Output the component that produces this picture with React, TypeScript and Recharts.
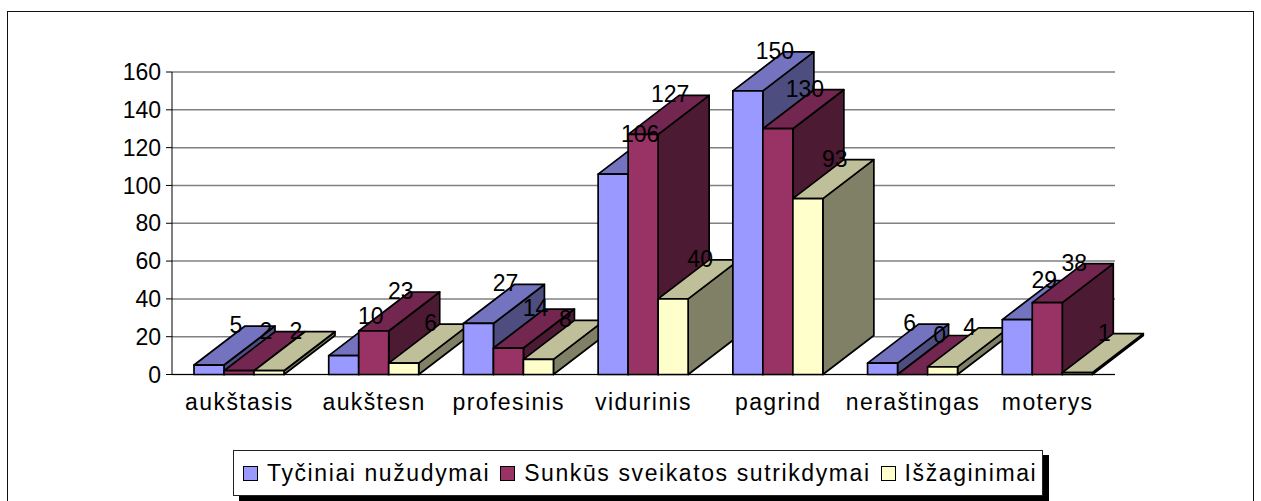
import { BarChart, Bar, XAxis, YAxis, CartesianGrid } from "recharts";

const categories = ["aukštasis", "aukštesn", "profesinis", "vidurinis", "pagrind", "neraštingas", "moterys"];
const tycNuzudymai = [5, 10, 27, 106, 150, 6, 29];
const sunkus = [2, 23, 14, 127, 130, 0, 38];
const isZaginimai = [2, 6, 8, 40, 93, 4, 1];
const yTicks = [0, 20, 40, 60, 80, 100, 120, 140, 160];

const seriesNames = ["Tyčiniai nužudymai", "Sunkūs sveikatos sutrikdymai", "Išžaginimai"];
const seriesValues = [tycNuzudymai, sunkus, isZaginimai];
// front, top, side
const seriesColors = [
  ["#9999ff", "#7373bf", "#4d4d80"],
  ["#993366", "#732650", "#4d1a33"],
  ["#ffffcc", "#bfbf99", "#808066"],
];

const rows = categories.map((name, i) => ({
  name,
  s0: seriesValues[0][i],
  s1: seriesValues[1][i],
  s2: seriesValues[2][i],
}));

const DEPTH_X = 51;
const DEPTH_Y = 39;
const FONT = "'Liberation Sans', Arial, sans-serif";
const TEXT_SIZE = 23;

// 3d box, front rectangle comes from the bar scale
function Box({ x, y, width, height, colors }: any) {
  const r = x + width;
  const b = y + height;
  const line = { stroke: "#000", strokeWidth: 1.7, strokeLinejoin: "round" as const };
  return (
    <g>
      <polygon
        points={`${r},${y} ${r + DEPTH_X},${y - DEPTH_Y} ${r + DEPTH_X},${b - DEPTH_Y} ${r},${b}`}
        fill={colors[2]}
        {...line}
      />
      <polygon
        points={`${x},${y} ${x + DEPTH_X},${y - DEPTH_Y} ${r + DEPTH_X},${y - DEPTH_Y} ${r},${y}`}
        fill={colors[1]}
        {...line}
      />
      <rect x={x} y={y} width={width} height={height} fill={colors[0]} {...line} />
    </g>
  );
}

function ValueLabel({ x, y, width, value }: any) {
  return (
    <text
      x={x + width / 2 + 27}
      y={y - DEPTH_Y - 1}
      textAnchor="middle"
      dominantBaseline="central"
      fontFamily={FONT}
      fontSize={TEXT_SIZE}
      fill="#000"
    >
      {value}
    </text>
  );
}

export default function App() {
  return (
    <div style={{ position: "absolute", left: 0, top: 0, width: 1261, height: 501, background: "#fff", overflow: "hidden" }}>
      <div
        style={{
          position: "absolute",
          left: 7,
          top: 11,
          width: 1245,
          height: 500,
          border: "1.5px solid #111",
        }}
      />
      <BarChart
        width={1261}
        height={501}
        data={rows}
        barGap={0}
        margin={{ top: 72, right: 146, bottom: 96.5, left: 0 }}
        style={{ position: "absolute", left: 0, top: 0 }}
      >
        <CartesianGrid vertical={false} stroke="#808080" strokeWidth={1.5} xAxisId="labels" />
        <YAxis
          width={172}
          domain={[0, 160]}
          ticks={yTicks}
          interval={0}
          tick={{ fontFamily: FONT, fontSize: TEXT_SIZE, fill: "#000" }}
          tickLine={{ stroke: "#000" }}
          axisLine={{ stroke: "#000" }}
          tickSize={6}
          tickMargin={5}
        />
        <XAxis
          xAxisId="labels"
          dataKey="name"
          height={30}
          interval={0}
          tick={{ fontFamily: FONT, fontSize: TEXT_SIZE, fill: "#000", letterSpacing: 1.4 }}
          tickLine={false}
          axisLine={{ stroke: "#000" }}
          tickMargin={13}
        />
        {/* one hidden axis per category so boxes paint left to right, group by group */}
        {categories.map((c) => (
          <XAxis key={c} xAxisId={c} dataKey="name" height={0} hide />
        ))}
        {categories.map((c, i) =>
          seriesNames.map((_, s) => (
            <Bar
              key={c + s}
              xAxisId={c}
              dataKey={"s" + s}
              barSize={30}
              isAnimationActive={false}
              shape={(p: any) => (p.index === i ? <Box {...p} colors={seriesColors[s]} /> : <g />)}
            />
          ))
        )}
        {/* labels sit above all boxes */}
        {seriesNames.map((_, s) => (
          <Bar
            key={"label" + s}
            xAxisId="labels"
            dataKey={"s" + s}
            barSize={30}
            isAnimationActive={false}
            shape={() => <g />}
            label={<ValueLabel />}
          />
        ))}
      </BarChart>
      <div
        style={{
          position: "absolute",
          left: 233,
          top: 450,
          width: 810,
          height: 46,
          boxSizing: "border-box",
          border: "1.5px solid #222",
          boxShadow: "6px 5px 0 #000",
          background: "#fff",
          display: "flex",
          alignItems: "center",
          paddingLeft: 9,
          fontFamily: FONT,
          fontSize: TEXT_SIZE,
          letterSpacing: 1.6,
          color: "#000",
          whiteSpace: "nowrap",
        }}
      >
        {seriesNames.map((n, s) => (
          <span key={n} style={{ display: "inline-flex", alignItems: "center", marginRight: 10 }}>
            <span
              style={{
                width: 15,
                height: 15,
                boxSizing: "border-box",
                background: seriesColors[s][0],
                border: "1.5px solid #000",
                marginRight: 9,
              }}
            />
            {n}
          </span>
        ))}
      </div>
    </div>
  );
}
